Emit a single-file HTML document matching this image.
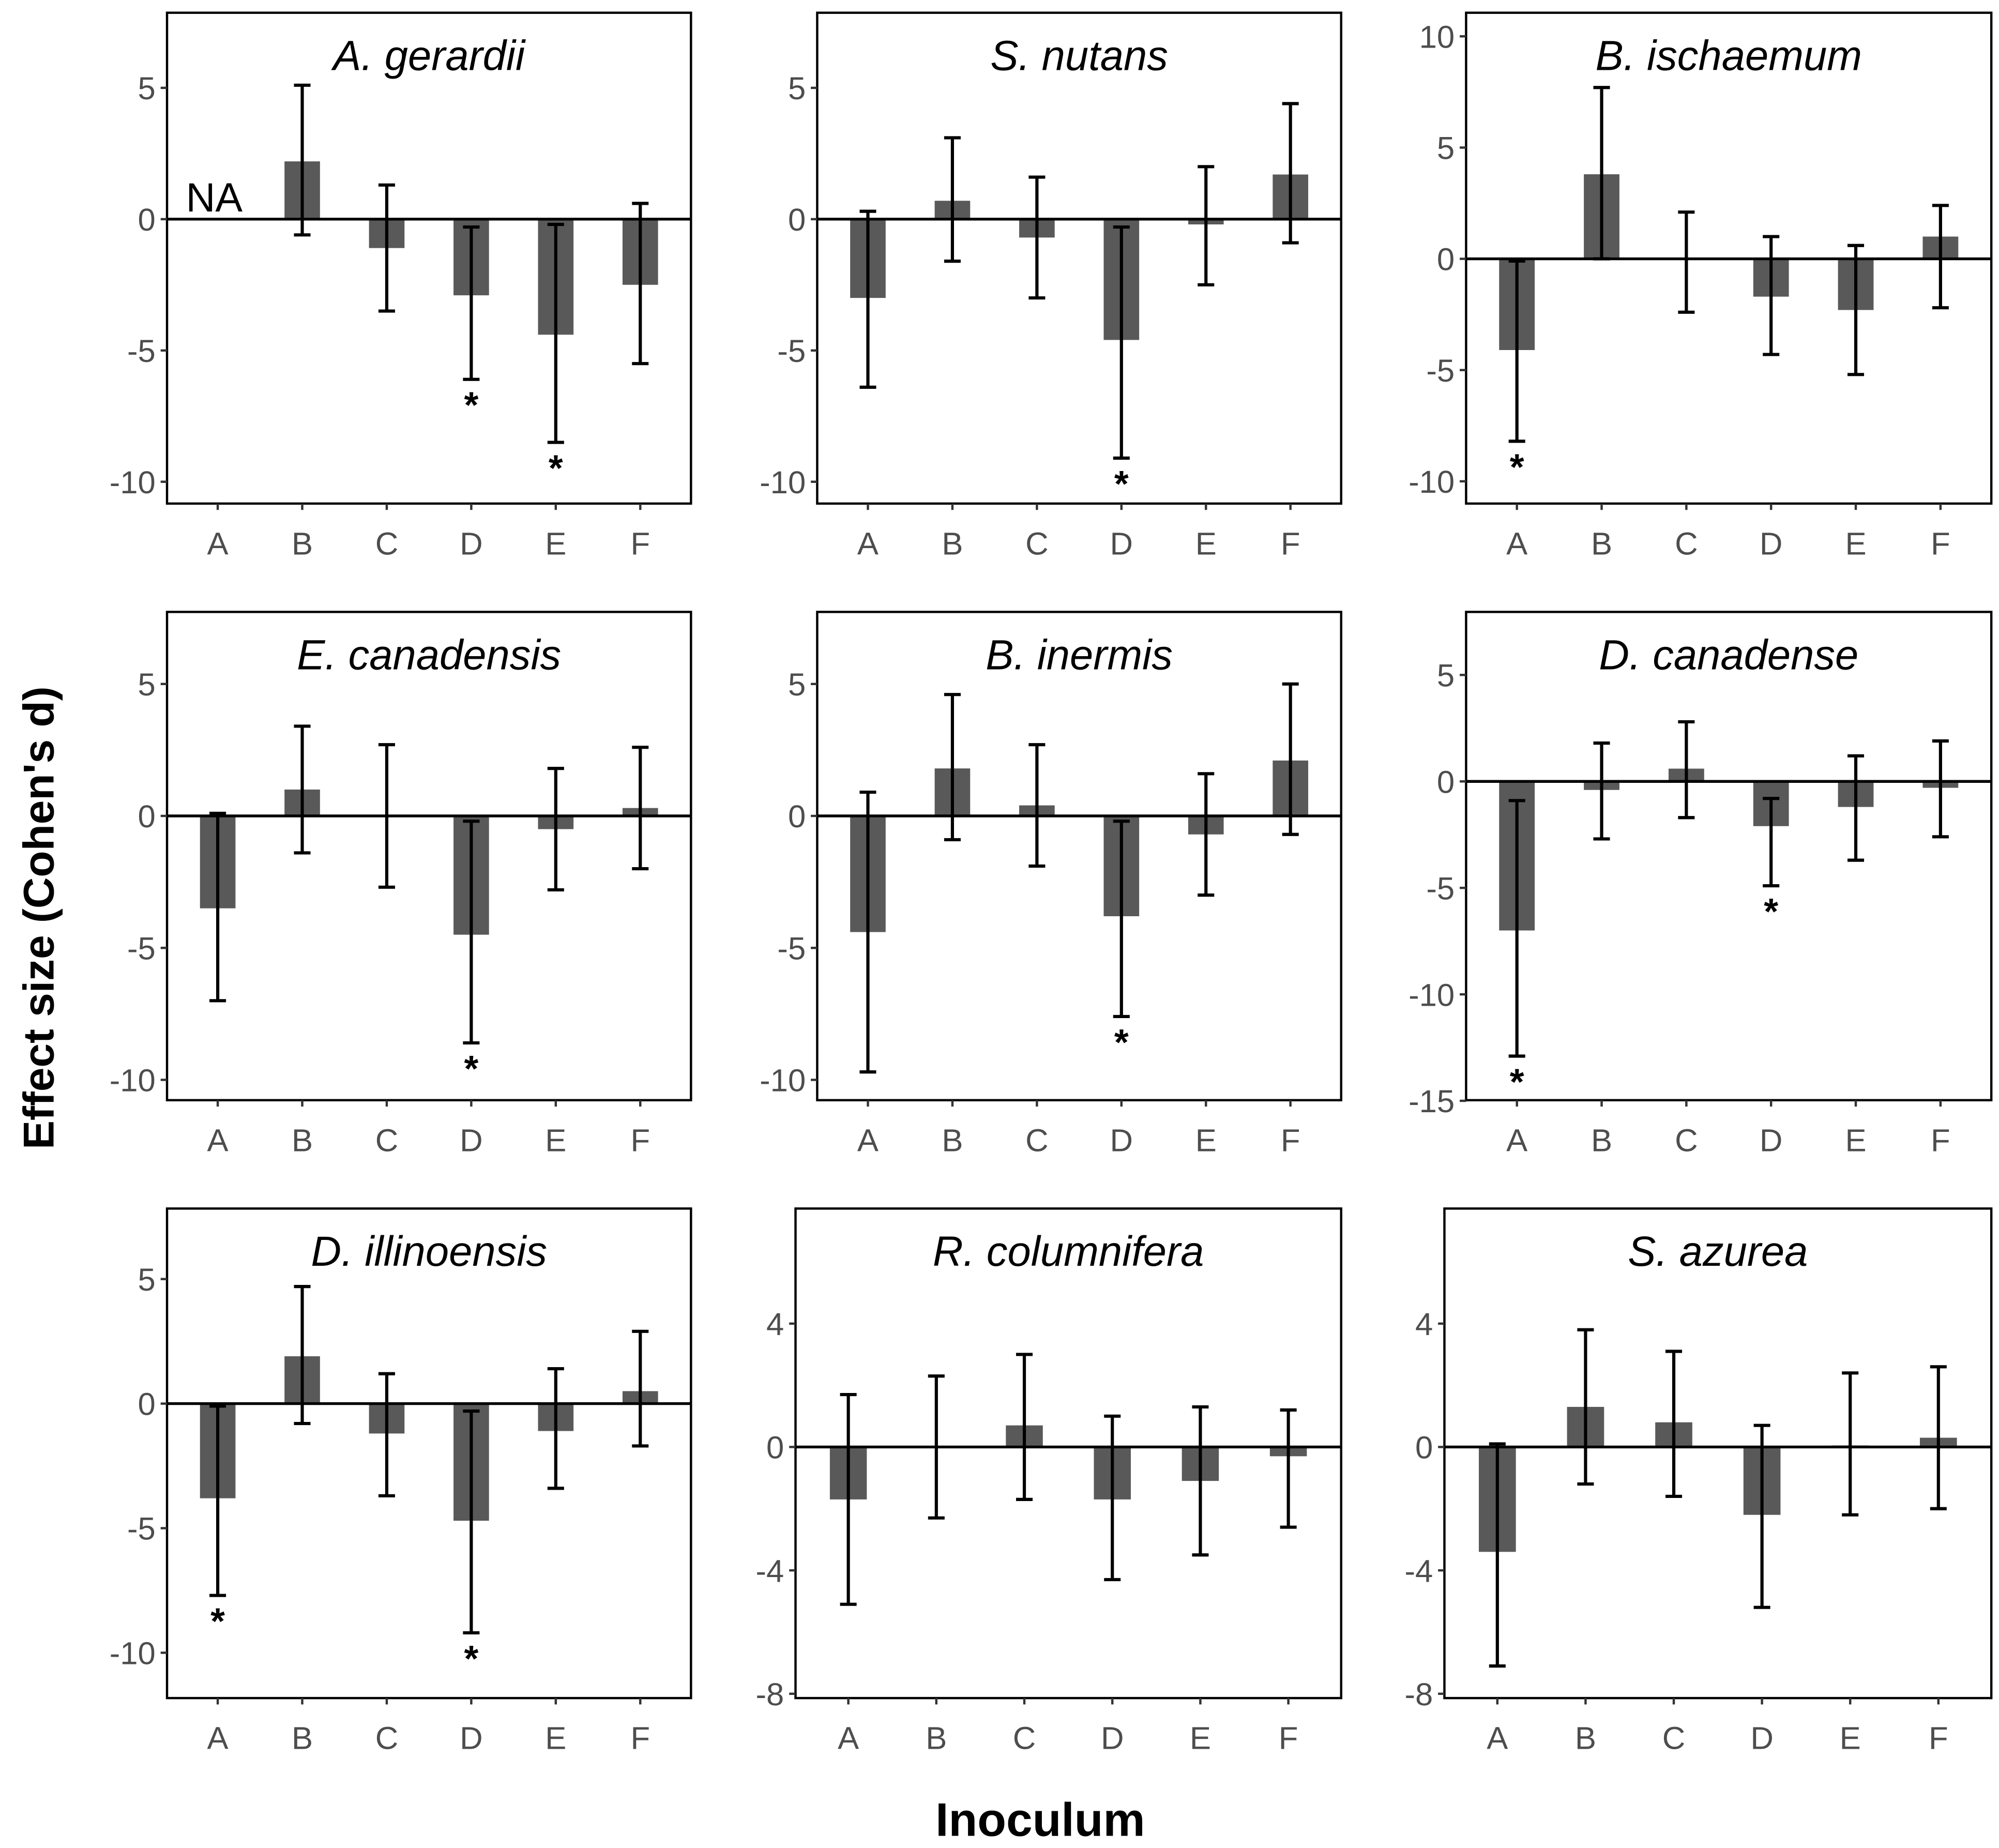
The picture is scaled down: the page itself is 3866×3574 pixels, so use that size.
<!DOCTYPE html>
<html><head><meta charset="utf-8"><style>
html,body{margin:0;padding:0;background:#fff;}
svg{display:block;}
</style></head>
<body>
<svg id="chart" xmlns="http://www.w3.org/2000/svg" width="3866" height="3574" viewBox="0 0 1568 1449.6">
<rect x="0" y="0" width="1568" height="1449.6" fill="#fff"/>
<text transform="translate(42,720) rotate(-90)" text-anchor="middle" font-family="Liberation Sans, sans-serif" font-weight="bold" font-size="34">Effect size (Cohen's d)</text>
<text x="816" y="1440" text-anchor="middle" font-family="Liberation Sans, sans-serif" font-weight="bold" font-size="37">Inoculum</text>
<g id="panels"></g>
</svg>
<script>
const categories = ["A","B","C","D","E","F"];
const titles = ["A. gerardii","S. nutans","B. ischaemum","E. canadensis","B. inermis","D. canadense","D. illinoensis","R. columnifera","S. azurea"];
// means (null = NA)
const means = [
 [null,2.2,-1.1,-2.9,-4.4,-2.5],
 [-3.0,0.7,-0.7,-4.6,-0.2,1.7],
 [-4.1,3.8,0.0,-1.7,-2.3,1.0],
 [-3.5,1.0,0.0,-4.5,-0.5,0.3],
 [-4.4,1.8,0.4,-3.8,-0.7,2.1],
 [-7.0,-0.4,0.6,-2.1,-1.2,-0.3],
 [-3.8,1.9,-1.2,-4.7,-1.1,0.5],
 [-1.7,0.0,0.7,-1.7,-1.1,-0.3],
 [-3.4,1.3,0.8,-2.2,0.05,0.3]
];
const lowers = [
 [null,-0.6,-3.5,-6.1,-8.5,-5.5],
 [-6.4,-1.6,-3.0,-9.1,-2.5,-0.9],
 [-8.2,0.0,-2.4,-4.3,-5.2,-2.2],
 [-7.0,-1.4,-2.7,-8.6,-2.8,-2.0],
 [-9.7,-0.9,-1.9,-7.6,-3.0,-0.7],
 [-12.9,-2.7,-1.7,-4.9,-3.7,-2.6],
 [-7.7,-0.8,-3.7,-9.2,-3.4,-1.7],
 [-5.1,-2.3,-1.7,-4.3,-3.5,-2.6],
 [-7.1,-1.2,-1.6,-5.2,-2.2,-2.0]
];
const uppers = [
 [null,5.1,1.3,-0.3,-0.2,0.6],
 [0.3,3.1,1.6,-0.3,2.0,4.4],
 [-0.1,7.7,2.1,1.0,0.6,2.4],
 [0.1,3.4,2.7,-0.2,1.8,2.6],
 [0.9,4.6,2.7,-0.2,1.6,5.0],
 [-0.9,1.8,2.8,-0.8,1.2,1.9],
 [-0.1,4.7,1.2,-0.3,1.4,2.9],
 [1.7,2.3,3.0,1.0,1.3,1.2],
 [0.1,3.8,3.1,0.7,2.4,2.6]
];
const significant = [
 [0,0,0,1,1,0],[0,0,0,1,0,0],[1,0,0,0,0,0],
 [0,0,0,1,0,0],[0,0,0,1,0,0],[1,0,0,1,0,0],
 [1,0,0,1,0,0],[0,0,0,0,0,0],[0,0,0,0,0,0]
];
const yTicks = [
 [5,0,-5,-10],[5,0,-5,-10],[10,5,0,-5,-10],
 [5,0,-5,-10],[5,0,-5,-10],[5,0,-5,-10,-15],
 [5,0,-5,-10],[4,0,-4,-8],[4,0,-4,-8]
];
const yDomains = [
 [-10.83,7.86],[-10.83,7.86],[-11.0,11.06],
 [-10.77,7.73],[-10.77,7.73],[-14.97,7.96],
 [-11.82,7.83],[-8.14,7.73],[-8.14,7.73]
];
// layout (panel frames)
const frames = [
 [131,542,10,395],[641,1052,10,395],[1150,1562,10,395],
 [131,542,480,863],[641,1052,480,863],[1150,1562,480,863],
 [131,542,948,1332],[624,1052,948,1332],[1133,1562,948,1332]
];
const NS="http://www.w3.org/2000/svg";
const root=document.getElementById('panels');
function mk(tag,attrs,parent){const e=document.createElementNS(NS,tag);for(const k in attrs)e.setAttribute(k,attrs[k]);parent.appendChild(e);return e;}
const FONT="Liberation Sans, sans-serif";
for(let p=0;p<9;p++){
  const [x0,x1,y0,y1]=frames[p];
  const [dmin,dmax]=yDomains[p];
  const ys=v=>y1-(v-dmin)/(dmax-dmin)*(y1-y0);
  const unit=(x1-x0)/6.2;
  const xs=i=>x0+(i+1-0.4)*unit;
  const g=mk('g',{},root);
  
  
  const fr=mk('rect',{x:x0,y:y0,width:x1-x0,height:y1-y0,fill:'none',stroke:'#000','stroke-width':1.8},g);
  
  
  yTicks[p].forEach(t=>{
    const yy=ys(t);
    const tk=mk('line',{x1:x0-5,x2:x0,y1:yy,y2:yy,stroke:'#333','stroke-width':1.8},g);
    
    
    const tl=mk('text',{x:x0-9,y:yy+9,'text-anchor':'end','font-family':FONT,'font-size':25,fill:'#4d4d4d'},g);
    tl.textContent=String(t);
    
    
  });
  categories.forEach((c,i)=>{
    const cx=xs(i);
    const tk=mk('line',{x1:cx,x2:cx,y1:y1,y2:y1+5,stroke:'#333','stroke-width':1.8},g);
    
    
    const tl=mk('text',{x:cx,y:y1+40,'text-anchor':'middle','font-family':FONT,'font-size':25,fill:'#4d4d4d'},g);
    tl.textContent=c;
    
    
    const m=means[p][i];
    if(m===null){
      const na=mk('text',{x:cx-25,y:ys(0)-6,'font-family':FONT,'font-size':32,fill:'#000'},g);
      na.textContent='NA';
      
      
      return;
    }
    const bw=unit*0.42;
    const b=mk('rect',{x:cx-bw/2,y:Math.min(ys(m),ys(0)),width:bw,height:Math.max(Math.abs(ys(m)-ys(0)),0.8),fill:'#595959'},g);
    
    
    const lo=ys(lowers[p][i]), hi=ys(uppers[p][i]);
    const eg=mk('g',{stroke:'#000','stroke-width':2.5},g);
    
    
    mk('line',{x1:cx,x2:cx,y1:hi,y2:lo},eg);
    mk('line',{x1:cx-6.5,x2:cx+6.5,y1:hi,y2:hi},eg);
    mk('line',{x1:cx-6.5,x2:cx+6.5,y1:lo,y2:lo},eg);
    if(significant[p][i]){
      const s=mk('text',{x:cx,y:lo+30,'text-anchor':'middle','font-family':FONT,'font-weight':'bold','font-size':29,fill:'#000'},g);
      s.textContent='*';
      
      
    }
  });
  const zl=mk('line',{x1:x0,x2:x1,y1:ys(0),y2:ys(0),stroke:'#000','stroke-width':2.2},g);
  
  
  const tt=mk('text',{x:(x0+x1)/2,y:y0+45,'text-anchor':'middle','font-family':FONT,'font-style':'italic','font-size':33,fill:'#000'},g);
  tt.textContent=titles[p];
  
  
}
</script>
</body></html>
